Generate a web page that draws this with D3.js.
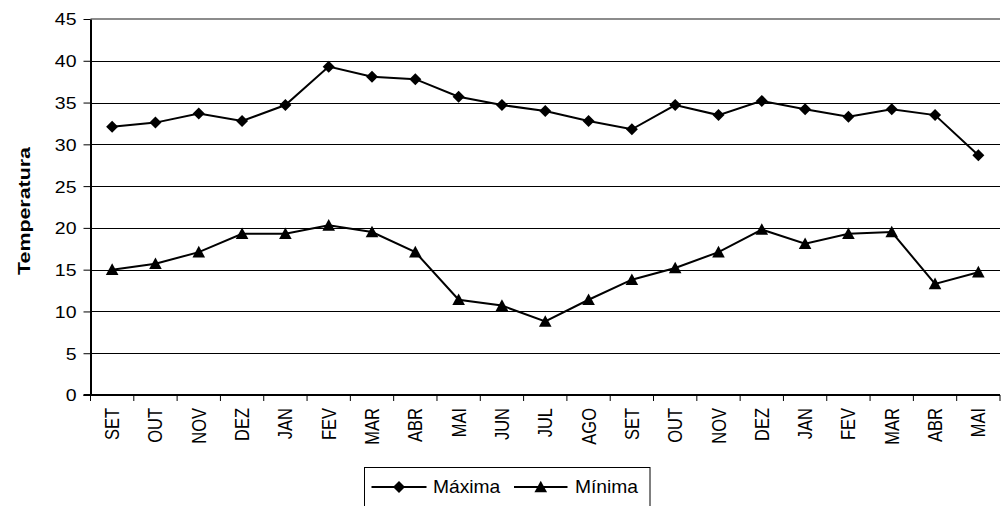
<!DOCTYPE html>
<html>
<head>
<meta charset="utf-8">
<script src="https://cdn.jsdelivr.net/npm/d3@7"></script>
<style>
  body { margin: 0; background: #fff; }
  svg { display: block; font-family: "Liberation Sans", Arial, sans-serif; }
</style>
</head>
<body>
<svg id="chart" width="1001" height="506"></svg>
<script>
"use strict";

// month labels (two seasons)
var months = ["SET","OUT","NOV","DEZ","JAN","FEV","MAR","ABR","MAI","JUN","JUL","AGO",
              "SET","OUT","NOV","DEZ","JAN","FEV","MAR","ABR","MAI"];

// Máxima
var maxima = [32.1, 32.6, 33.7, 32.8, 34.7, 39.3, 38.1, 37.8, 35.7, 34.7, 34.0, 32.8,
              31.8, 34.7, 33.5, 35.2, 34.2, 33.3, 34.2, 33.5, 28.7];

// Mínima
var minima = [15.0, 15.7, 17.1, 19.3, 19.3, 20.3, 19.5, 17.1, 11.4, 10.7, 8.8, 11.4,
              13.8, 15.2, 17.1, 19.8, 18.1, 19.3, 19.5, 13.3, 14.7];

var yTicks = [0, 5, 10, 15, 20, 25, 30, 35, 40, 45];

var stretch = 1.18;   // the original chart is a bit wider than tall text
var plot = { left: 90.5, right: 1000, top: 19, bottom: 395 };

var svg = d3.select('#chart');

var x = d3.scaleBand()
	.domain(d3.range(months.length))
	.range([plot.left, plot.right]);

var y = d3.scaleLinear()
	.domain([0, 45])
	.range([plot.bottom, plot.top]);

var cx = function(d, i) { return x(i) + x.bandwidth() / 2; };

// gridlines
svg.append('g')
	.selectAll('line')
	.data(yTicks.filter(function(t) { return t > 0 && t < 45; }))
	.enter().append('line')
	.attr('x1', plot.left).attr('x2', plot.right)
	.attr('y1', function(d) { return Math.round(y(d)) + 0.5; })
	.attr('y2', function(d) { return Math.round(y(d)) + 0.5; })
	.attr('stroke', '#000')
	.attr('stroke-width', 1);

// plot area top border
svg.append('line')
	.attr('x1', plot.left).attr('x2', plot.right)
	.attr('y1', y(45)).attr('y2', y(45))
	.attr('stroke', '#8c8c8c')
	.attr('stroke-width', 2);

// y axis
var yAxis = svg.append('g')
	.attr('transform', 'translate(' + plot.left + ',0)')
	.call(d3.axisLeft(y).tickValues(yTicks).tickSize(7).tickSizeOuter(0));

yAxis.select('.domain').attr('stroke', '#000').attr('stroke-width', 2);
yAxis.selectAll('.tick line').attr('stroke', '#000');
yAxis.selectAll('.tick text')
	.attr('x', -14 / stretch)
	.attr('dy', '0.36em')
	.attr('transform', 'scale(' + stretch + ',1)')
	.style('font-size', '16.5px')
	.style('font-family', '"Liberation Sans", Arial, sans-serif')
	.attr('fill', '#000');

// x axis
svg.append('line')
	.attr('x1', plot.left - 7).attr('x2', plot.right)
	.attr('y1', plot.bottom).attr('y2', plot.bottom)
	.attr('stroke', '#000')
	.attr('stroke-width', 2);

var bounds = d3.range(months.length + 1).map(function(i) {
	return i < months.length ? x(i) : plot.right;
});

svg.append('g')
	.selectAll('line')
	.data(bounds)
	.enter().append('line')
	.attr('x1', function(d) { return d; })
	.attr('x2', function(d) { return d; })
	.attr('y1', plot.bottom)
	.attr('y2', plot.bottom + 6)
	.attr('stroke', '#000')
	.attr('stroke-width', 1);

svg.append('g')
	.selectAll('text')
	.data(months)
	.enter().append('text')
	.attr('transform', function(d, i) {
		return 'translate(' + cx(d, i) + ',408) scale(' + stretch + ',1) rotate(-90)';
	})
	.attr('text-anchor', 'end')
	.attr('dy', '0.36em')
	.style('font-size', '16.5px')
	.text(function(d) { return d; });

// y axis title
svg.append('text')
	.attr('transform', 'translate(24,211) rotate(-90)')
	.attr('text-anchor', 'middle')
	.attr('dy', '0.36em')
	.attr('textLength', 128)
	.attr('lengthAdjust', 'spacingAndGlyphs')
	.style('font-size', '17px')
	.style('font-weight', 'bold')
	.text('Temperatura');

// markers
var diamond = function(s) {
	return 'M0,' + (-s) + 'L' + s + ',0L0,' + s + 'L' + (-s) + ',0Z';
};
var triangle = function(s) {
	return 'M0,' + (-s) + 'L' + s + ',' + (s - 1) + 'L' + (-s) + ',' + (s - 1) + 'Z';
};

var line = d3.line()
	.x(function(d, i) { return cx(d, i); })
	.y(function(d) { return y(d); });

function drawSeries(values, shape) {
	svg.append('path')
		.datum(values)
		.attr('d', line)
		.attr('fill', 'none')
		.attr('stroke', '#000')
		.attr('stroke-width', 2);

	svg.append('g')
		.selectAll('path')
		.data(values)
		.enter().append('path')
		.attr('transform', function(d, i) { return 'translate(' + cx(d, i) + ',' + y(d) + ')'; })
		.attr('d', shape)
		.attr('fill', '#000');
}

drawSeries(maxima, diamond(6));
drawSeries(minima, triangle(6.3));

// legend
var legend = svg.append('g');

legend.append('rect')
	.attr('x', 364.5).attr('y', 467.5)
	.attr('width', 285.5).attr('height', 50)
	.attr('fill', '#fff')
	.attr('stroke', '#000')
	.attr('stroke-width', 1);

var legendItems = [
	{ name: 'Máxima', shape: diamond(6), x0: 371.5, x1: 426.5, textX: 433 },
	{ name: 'Mínima', shape: triangle(6.3), x0: 514, x1: 567.5, textX: 575 }
];

legendItems.forEach(function(it) {
	legend.append('line')
		.attr('x1', it.x0).attr('x2', it.x1)
		.attr('y1', 487).attr('y2', 487)
		.attr('stroke', '#000')
		.attr('stroke-width', 2);
	legend.append('path')
		.attr('transform', 'translate(' + ((it.x0 + it.x1) / 2) + ',487)')
		.attr('d', it.shape)
		.attr('fill', '#000');
	legend.append('text')
		.attr('transform', 'translate(' + it.textX + ',493) scale(1.1,1)')
		.style('font-size', '17.5px')
		.text(it.name);
});
</script>
</body>
</html>
